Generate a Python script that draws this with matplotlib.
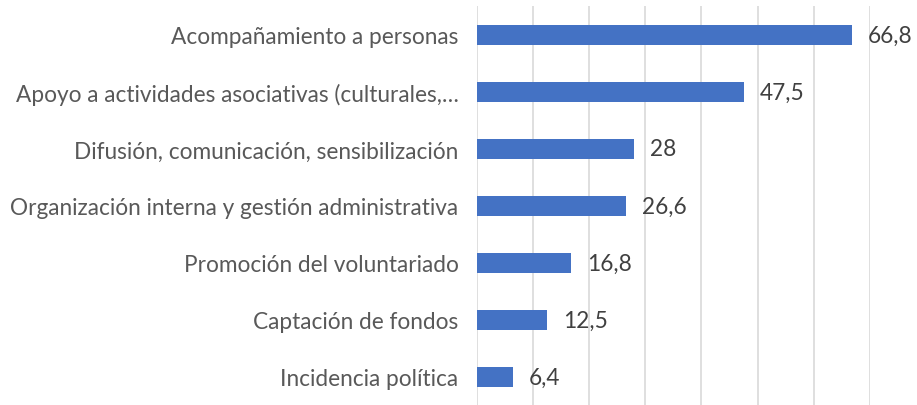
import matplotlib.pyplot as plt

# categories top to bottom, as in the picture
categories = [
    'Acompañamiento a personas',
    'Apoyo a actividades asociativas (culturales,…',
    'Difusión, comunicación, sensibilización',
    'Organización interna y gestión administrativa',
    'Promoción del voluntariado',
    'Captación de fondos',
    'Incidencia política',
]
values = [66.8, 47.5, 28, 26.6, 16.8, 12.5, 6.4]
value_labels = ['66,8', '47,5', '28', '26,6', '16,8', '12,5', '6,4']
xticks = [0, 10, 20, 30, 40, 50, 60, 70]

plt.rcParams['font.family'] = ['Lato', 'DejaVu Sans']

fig = plt.figure(figsize=(9.17, 4.06), dpi=100)
ax = fig.add_axes([0.5198, -0.001, 0.4289, 0.9827])

ypos = list(range(len(categories)))
ax.barh(ypos, values, height=0.35, color='#4472C4', zorder=3)

ax.set_xlim(0, 70)
ax.set_ylim(len(categories) - 0.5, -0.5)
ax.set_xticks(xticks)
ax.set_xticklabels([])
ax.set_yticks(ypos)
ax.set_yticklabels(categories, fontsize=16.3, color='#595959')
ax.tick_params(axis='both', length=0)
ax.tick_params(axis='y', pad=13)

# vertical gridlines only
ax.grid(axis='x', color='#D9D9D9', linewidth=1.2, zorder=0)
for s in ax.spines.values():
    s.set_visible(False)

# value labels at bar ends
for y, v, lab in zip(ypos, values, value_labels):
    ax.text(v + 2.8, y, lab, va='center', ha='left', fontsize=16.3, color='#404040')

fig.savefig('out.png', dpi=100)
